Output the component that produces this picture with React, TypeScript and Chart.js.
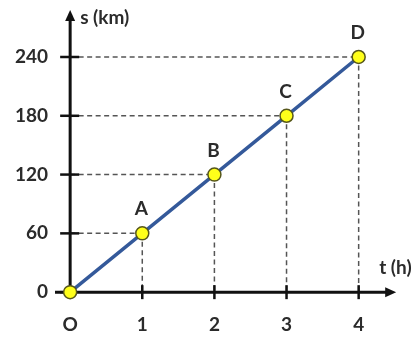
import React, { useEffect, useRef } from "react";
import { Chart, registerables } from "chart.js";

Chart.register(...registerables);

const times = [0, 1, 2, 3, 4];
const distances = [0, 60, 120, 180, 240];
const pointNames = ["", "A", "B", "C", "D"];
const xTickValues = [0, 1, 2, 3, 4];
const xTickLabels = ["O", "1", "2", "3", "4"];
const yTickValues = [0, 60, 120, 180, 240];
const xTitle = "t (h)";
const yTitle = "s (km)";

const FONT = "Lato, 'Open Sans', sans-serif";
const TEXT = "#2b2b2b";
const FSIZE = 19;

const overlay = {
  id: "overlay",
  beforeDatasetsDraw(chart: any) {
    const ctx = chart.ctx;
    const xs = chart.scales.x;
    const ys = chart.scales.y;
    const x0 = xs.getPixelForValue(0);
    const y0 = ys.getPixelForValue(0);
    const xEnd = xs.getPixelForValue(4.52);
    const yEnd = ys.getPixelForValue(288);
    ctx.save();
    // dashed guides
    ctx.strokeStyle = "#555";
    ctx.lineWidth = 1.5;
    ctx.setLineDash([5, 3.5]);
    times.forEach((t, i) => {
      if (i === 0) return;
      const px = xs.getPixelForValue(t);
      const py = ys.getPixelForValue(distances[i]);
      ctx.beginPath();
      ctx.moveTo(x0, py);
      ctx.lineTo(px, py);
      ctx.moveTo(px, py);
      ctx.lineTo(px, y0);
      ctx.stroke();
    });
    ctx.setLineDash([]);
    // axes
    ctx.strokeStyle = "#111";
    ctx.fillStyle = "#111";
    ctx.lineWidth = 3;
    const ca = chart.chartArea;
    ctx.beginPath();
    ctx.moveTo(ca.left, y0);
    ctx.lineTo(xEnd - 6, y0);
    ctx.moveTo(x0, y0);
    ctx.lineTo(x0, yEnd + 6);
    ctx.stroke();
    // arrow heads
    ctx.beginPath();
    ctx.moveTo(xEnd, y0);
    ctx.lineTo(xEnd - 11, y0 - 5);
    ctx.lineTo(xEnd - 11, y0 + 5);
    ctx.closePath();
    ctx.fill();
    ctx.beginPath();
    ctx.moveTo(x0, yEnd);
    ctx.lineTo(x0 - 5, yEnd + 11);
    ctx.lineTo(x0 + 5, yEnd + 11);
    ctx.closePath();
    ctx.fill();
    // tick marks
    ctx.lineWidth = 2.5;
    yTickValues.forEach((v) => {
      const py = ys.getPixelForValue(v);
      ctx.beginPath();
      ctx.moveTo(x0 - 10, py);
      ctx.lineTo(x0 + (v === 0 ? 0 : 9), py);
      ctx.stroke();
    });
    xTickValues.forEach((v) => {
      if (v === 0) return;
      const px = xs.getPixelForValue(v);
      ctx.beginPath();
      ctx.moveTo(px, y0 - 7);
      ctx.lineTo(px, y0 + 7);
      ctx.stroke();
    });
    // axis titles
    ctx.fillStyle = TEXT;
    ctx.font = `bold ${FSIZE}px ${FONT}`;
    ctx.textBaseline = "middle";
    ctx.textAlign = "left";
    ctx.fillText(yTitle, x0 + 10, yEnd + 8);
    ctx.fillText(xTitle, xEnd - 17, y0 - 24);
    ctx.restore();
  },
  afterDatasetsDraw(chart: any) {
    const ctx = chart.ctx;
    const meta = chart.getDatasetMeta(0);
    ctx.save();
    ctx.fillStyle = TEXT;
    ctx.font = `bold ${FSIZE}px ${FONT}`;
    ctx.textAlign = "center";
    ctx.textBaseline = "middle";
    meta.data.forEach((el: any, i: number) => {
      if (!pointNames[i]) return;
      ctx.fillText(pointNames[i], el.x - 1, el.y - 24);
    });
    ctx.restore();
  },
};

export default function App() {
  const ref = useRef<HTMLCanvasElement | null>(null);
  useEffect(() => {
    if (!ref.current) return;
    const chart = new Chart(ref.current, {
      type: "line",
      data: {
        datasets: [
          {
            data: times.map((t, i) => ({ x: t, y: distances[i] })),
            borderColor: "#34599a",
            borderWidth: 3.5,
            pointBackgroundColor: "#ffff1a",
            pointBorderColor: "#56561a",
            pointBorderWidth: 1.5,
            pointRadius: 6.5,
            fill: false,
            tension: 0,
          },
        ],
      },
      options: {
        animation: false,
        responsive: false,
        maintainAspectRatio: false,
        layout: { padding: 0 },
        plugins: { legend: { display: false }, tooltip: { enabled: false } },
        scales: {
          x: {
            type: "linear",
            min: -0.21,
            max: 4.684,
            grid: { display: false, drawTicks: false },
            border: { display: false },
            afterBuildTicks: (s: any) => {
              s.ticks = xTickValues.map((v) => ({ value: v }));
            },
            afterFit: (s: any) => {
              s.height = 38;
              s.paddingLeft = 0;
              s.paddingRight = 0;
              s.paddingTop = 0;
              s.paddingBottom = 0;
            },
            ticks: {
              padding: 13,
              color: TEXT,
              font: { family: FONT, size: FSIZE, weight: "bold" },
              callback: (v: any) => xTickLabels[xTickValues.indexOf(Number(v))] ?? "",
              maxRotation: 0,
            },
          },
          y: {
            type: "linear",
            min: -8,
            max: 290,
            grid: { display: false, drawTicks: false },
            border: { display: false },
            afterBuildTicks: (s: any) => {
              s.ticks = yTickValues.map((v) => ({ value: v }));
            },
            afterFit: (s: any) => {
              s.width = 55;
              s.paddingLeft = 0;
              s.paddingRight = 0;
              s.paddingTop = 0;
              s.paddingBottom = 0;
            },
            ticks: {
              padding: 7,
              color: TEXT,
              font: { family: FONT, size: FSIZE, weight: "bold" },
            },
          },
        },
      },
      plugins: [overlay],
    } as any);
    return () => chart.destroy();
  }, []);
  return (
    <div style={{ position: "fixed", left: 0, top: 0, width: 416, height: 338, background: "#fff" }}>
      <canvas ref={ref} width={416} height={338} style={{ width: 416, height: 338 }} />
    </div>
  );
}
